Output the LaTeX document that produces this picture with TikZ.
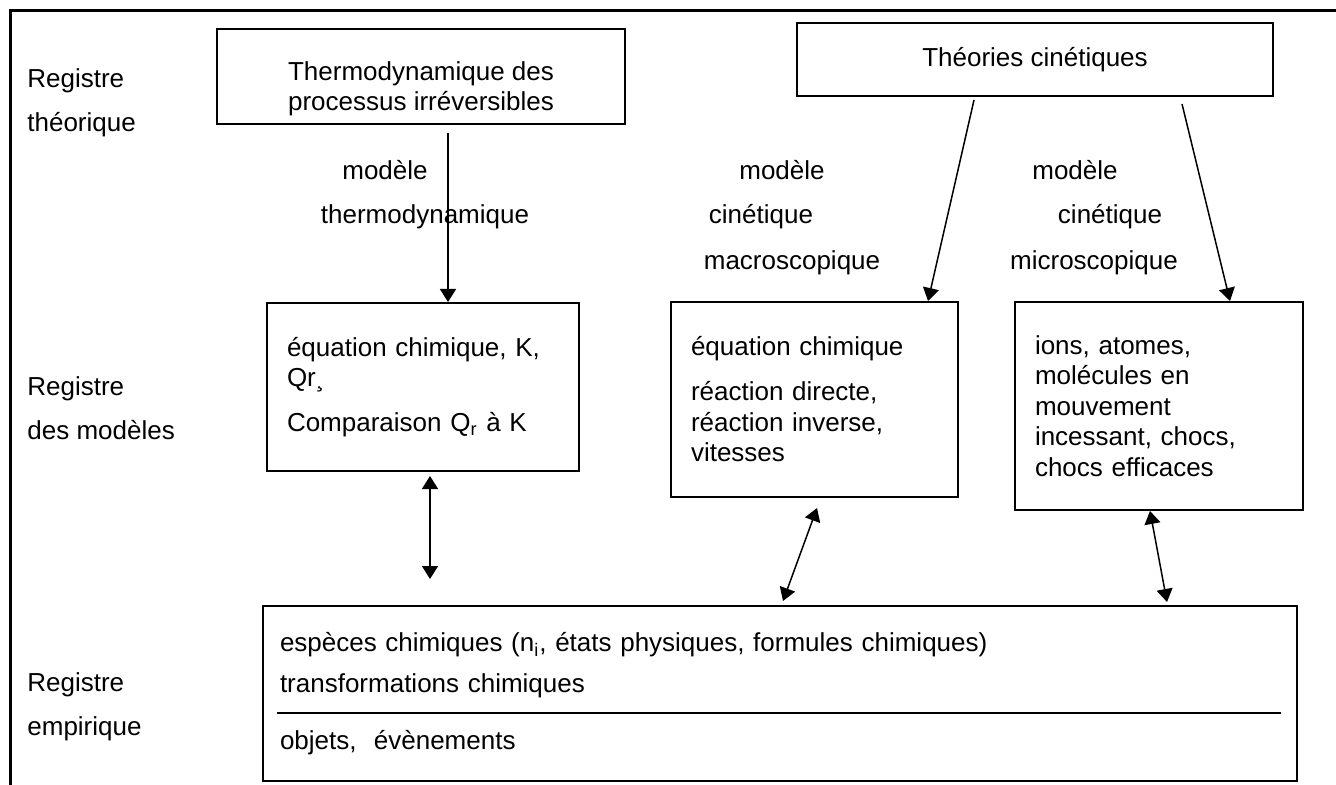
\documentclass[tikz,border=0pt]{standalone}
\usepackage{fontspec}
\setmainfont{Liberation Sans}
\usetikzlibrary{arrows.meta}

\begin{document}
\begin{tikzpicture}[x=0.5pt,y=-0.5pt]
		\tikzstyle{every node}=[font=\fontsize{13pt}{15.25pt}\selectfont];
		\tikzstyle{cadre}=[draw, line width=1pt, inner xsep=10pt, align=left];
		\tikzstyle{registre}=[anchor=west, inner sep=0pt, align=left];
		\tikzstyle{fleche}=[line width=0.75pt, -{Triangle[length=6.5pt,width=8pt]}];
		\tikzstyle{doublefleche}=[line width=0.75pt, {Triangle[length=6.5pt,width=8pt]}-{Triangle[length=6.5pt,width=8pt]}];
		\useasboundingbox (0,0) rectangle (1336,785);
		\draw[line width=1.5pt] (10,785) -- (10,11) -- (1336,11);
		\node[registre] (theorique) at (27,103) {Registre\\[7pt]théorique};
		\node[registre] (modeles) at (27,408) {Registre\\[7pt]des modèles};
		\node[registre] (empirique) at (27,707) {Registre\\[7pt]empirique};
		\node[cadre, align=center, inner xsep=2pt, minimum width=204pt, minimum height=47.5pt] (thermo) at (421,76.5) {\rule{0pt}{21.5pt}Thermodynamique des\\processus irréversibles};
		\node[cadre, align=center, inner xsep=2pt, minimum width=238pt, minimum height=36.5pt] (theories) at (1035,59.5) {Théories cinétiques};
		\node[cadre, text width=136pt, minimum height=84pt] (eqthermo) at (423,387) {équation chimique, K,\\Qr¸\\[7.25pt]Comparaison Q\textsubscript{r} à K};
		\node[cadre, text width=123.5pt, minimum height=97.5pt] (eqmacro) at (814.5,399.5) {équation chimique\\[7.25pt]réaction directe,\\réaction inverse,\\vitesses};
		\node[cadre, text width=124pt, minimum height=104pt] (eqmicro) at (1159,406) {ions, atomes,\\molécules en\\mouvement\\incessant, chocs,\\chocs efficaces};
		\node[cadre, inner xsep=8.5pt, text width=500pt, minimum height=87.5pt] (empir) at (780,693.5) {espèces chimiques (n\textsubscript{i}, états physiques, formules chimiques)\\[5.25pt]transformations chimiques\\[13.25pt]objets,~ évènements};
		\coordinate (sepG) at (277,713);
		\coordinate (sepD) at (1281,713);
		\draw[line width=1pt] (sepG) -- (sepD);
		\node (mthermo) at (385,170) {modèle};
		\node (thermodyn) at (425,217) {thermodynamique};
		\node (mmacro) at (782,170) {modèle};
		\node (cinmacro) at (761,217) {cinétique};
		\node (macro) at (792,263) {macroscopique};
		\node (mmicro) at (1075,170) {modèle};
		\node (cinmicro) at (1110,217) {cinétique};
		\node (micro) at (1094,263) {microscopique};
		\draw[fleche] ([xshift=13.5pt,yshift=-4pt]thermo.south) -- ([xshift=12.5pt]eqthermo.north);
		\draw[fleche] ([xshift=-30.5pt,yshift=-1.5pt]theories.south) -- ([xshift=56.75pt]eqmacro.north);
		\draw[fleche] ([xshift=73.5pt,yshift=-3.5pt]theories.south) -- ([xshift=35.5pt]eqmicro.north);
		\draw[doublefleche] ([xshift=3.5pt,yshift=-2pt]eqthermo.south) -- ([xshift=-175pt,yshift=13pt]empir.north);
		\draw[doublefleche] ([xshift=1.25pt,yshift=-5pt]eqmacro.south) -- ([xshift=1.5pt,yshift=2pt]empir.north);
		\draw[doublefleche] ([xshift=-4.5pt]eqmicro.south) -- ([xshift=193.5pt,yshift=1.5pt]empir.north);
	\end{tikzpicture}
\end{document}
